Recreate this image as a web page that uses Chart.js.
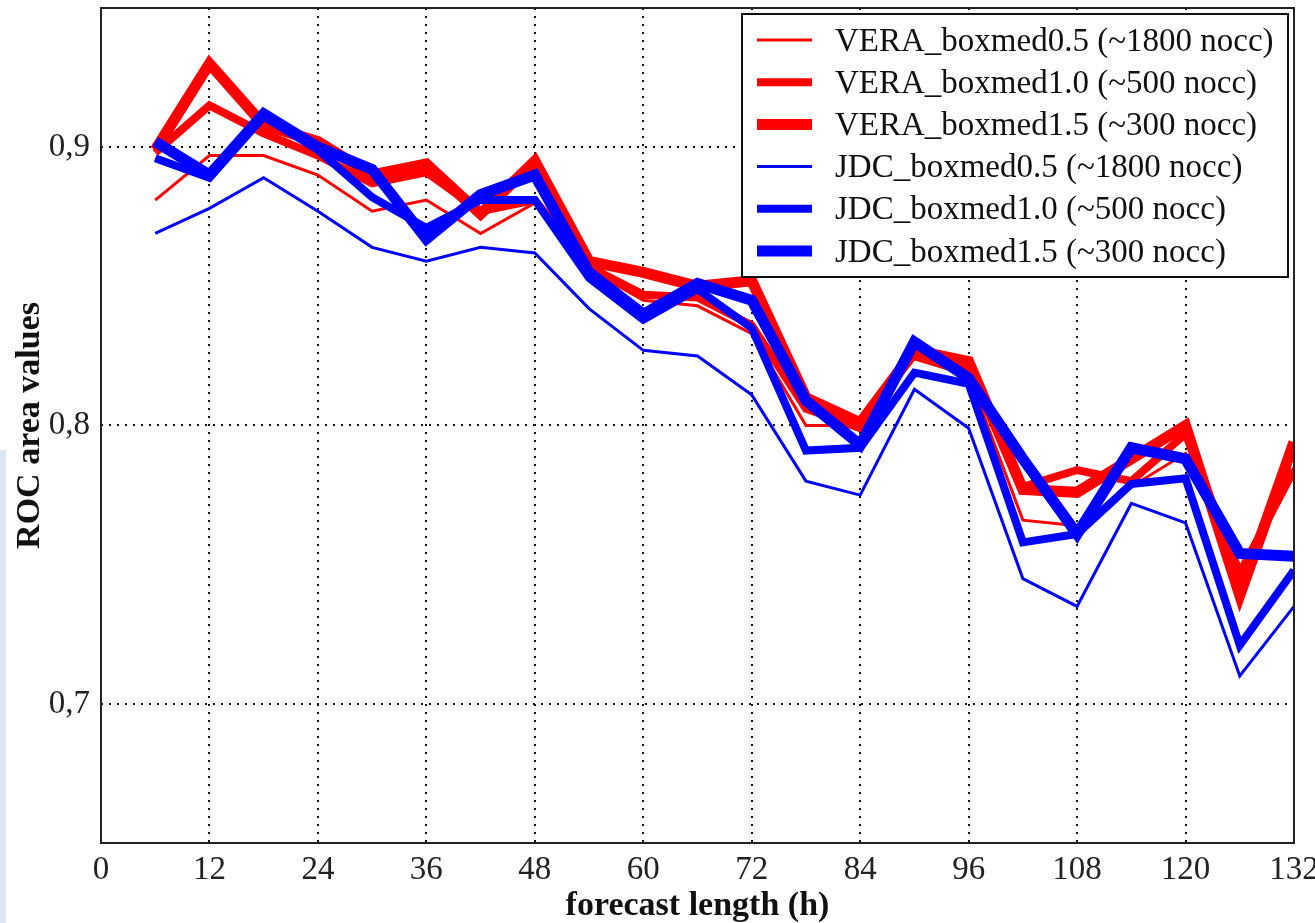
<!DOCTYPE html>
<html>
<head>
<meta charset="utf-8">
<script src="https://cdn.jsdelivr.net/npm/chart.js@4.4.1/dist/chart.umd.min.js"></script>
<style>
  html, body { margin: 0; padding: 0; background: #fff; overflow: hidden; }
  #wrap { position: relative; width: 1315px; height: 923px; }
</style>
</head>
<body>
<div id="wrap"><canvas id="rocChart"></canvas></div>
<script>
// Forecast lengths (h) and axis ticks
var forecastHours = [6, 12, 18, 24, 30, 36, 42, 48, 54, 60, 66, 72, 78, 84, 90, 96, 102, 108, 114, 120, 126, 132]
var xTicks = [0, 12, 24, 36, 48, 60, 72, 84, 96, 108, 120, 132]
var yTicks = [0.7, 0.8, 0.9]

// ROC area values
var vera05 = [0.881, 0.897, 0.897, 0.890, 0.877, 0.881, 0.869, 0.880, 0.856, 0.845, 0.843, 0.833, 0.800, 0.800, 0.824, 0.818, 0.766, 0.764, 0.778, 0.790, 0.745, 0.785]
var vera10 = [0.898, 0.915, 0.905, 0.897, 0.887, 0.891, 0.877, 0.881, 0.857, 0.847, 0.846, 0.836, 0.806, 0.799, 0.826, 0.820, 0.778, 0.784, 0.780, 0.797, 0.747, 0.784]
var vera15 = [0.899, 0.930, 0.908, 0.902, 0.890, 0.894, 0.876, 0.895, 0.859, 0.855, 0.850, 0.852, 0.810, 0.801, 0.827, 0.823, 0.777, 0.776, 0.788, 0.800, 0.739, 0.794]
var jdc05 = [0.869, 0.878, 0.889, 0.877, 0.864, 0.859, 0.864, 0.862, 0.842, 0.827, 0.825, 0.811, 0.780, 0.775, 0.813, 0.799, 0.745, 0.735, 0.772, 0.765, 0.710, 0.735]
var jdc10 = [0.896, 0.889, 0.911, 0.899, 0.882, 0.871, 0.881, 0.881, 0.853, 0.838, 0.849, 0.835, 0.791, 0.792, 0.819, 0.815, 0.758, 0.761, 0.779, 0.781, 0.721, 0.748]
var jdc15 = [0.902, 0.890, 0.912, 0.900, 0.892, 0.867, 0.883, 0.890, 0.855, 0.840, 0.851, 0.845, 0.809, 0.793, 0.830, 0.817, 0.788, 0.761, 0.792, 0.788, 0.754, 0.753]

var seriesLabels = [
    'VERA_boxmed0.5 (~1800 nocc)',
    'VERA_boxmed1.0 (~500 nocc)',
    'VERA_boxmed1.5 (~300 nocc)',
    'JDC_boxmed0.5 (~1800 nocc)',
    'JDC_boxmed1.0 (~500 nocc)',
    'JDC_boxmed1.5 (~300 nocc)'
]

var serif = '"Liberation Serif", "Times New Roman", serif'

function points(values) {
    return values.map(function (v, i) { return { x: forecastHours[i], y: v } })
}

function makeSet(label, values, color, width, order) {
    return {
        label: label,
        data: points(values),
        borderColor: color,
        backgroundColor: color,
        borderWidth: width,
        pointRadius: 0,
        tension: 0,
        fill: false,
        borderJoinStyle: 'miter',
        order: order
    }
}

// Frame round the plot area
var framePlugin = {
    id: 'frame',
    beforeDraw: function (chart) {
        var c = chart.ctx
        c.save()
        c.fillStyle = '#dde7f4'
        c.fillRect(0, 450, 6, chart.height - 450)
        c.restore()
    },
    afterDraw: function (chart) {
        var a = chart.chartArea
        var c = chart.ctx
        c.save()
        c.strokeStyle = '#222'
        c.lineWidth = 2
        c.strokeRect(a.left, a.top, a.right - a.left, a.bottom - a.top)
        c.restore()
    }
}

// Legend box in the top right corner
var legendPlugin = {
    id: 'boxLegend',
    afterDraw: function (chart) {
        var a = chart.chartArea
        var c = chart.ctx
        var boxRight = a.right - 6
        var boxLeft = 742
        var boxTop = a.top + 6
        var boxHeight = 263
        c.save()
        c.fillStyle = '#fff'
        c.fillRect(boxLeft, boxTop, boxRight - boxLeft, boxHeight)
        c.strokeStyle = '#111'
        c.lineWidth = 2
        c.strokeRect(boxLeft, boxTop, boxRight - boxLeft, boxHeight)
        c.font = '33px ' + serif
        c.textBaseline = 'middle'
        c.fillStyle = '#111'
        chart.data.datasets.forEach(function (ds, i) {
            var y = boxTop + 26 + i * 42.2
            c.strokeStyle = ds.borderColor
            c.lineWidth = ds.borderWidth
            c.beginPath()
            c.moveTo(boxLeft + 15, y)
            c.lineTo(boxLeft + 70, y)
            c.stroke()
            c.fillText(ds.label, boxLeft + 93, y + 2)
        })
        c.restore()
    }
}

const ctx = document.getElementById('rocChart').getContext('2d')
const config = {
    type: 'line',
    data: {
        datasets: [
            makeSet(seriesLabels[0], vera05, '#ff0000', 3, 1),
            makeSet(seriesLabels[1], vera10, '#ff0000', 8, 1),
            makeSet(seriesLabels[2], vera15, '#ff0000', 11, 1),
            makeSet(seriesLabels[3], jdc05, '#0000ff', 3, 0),
            makeSet(seriesLabels[4], jdc10, '#0000ff', 8, 0),
            makeSet(seriesLabels[5], jdc15, '#0000ff', 11, 0)
        ]
    },
    options: {
        responsive: true,
        maintainAspectRatio: false,
        animation: false,
        devicePixelRatio: 1,
        layout: { padding: { top: 8, right: 21, left: 0, bottom: 0 } },
        plugins: {
            legend: { display: false },
            tooltip: { enabled: false },
            title: { display: false }
        },
        scales: {
            x: {
                type: 'linear',
                min: 0,
                max: 132,
                afterBuildTicks: function (scale) {
                    scale.ticks = xTicks.map(function (v) { return { value: v } })
                },
                afterFit: function (scale) {
                    scale.height = 80
                    scale.paddingLeft = 0
                    scale.paddingRight = 0
                },
                ticks: {
                    autoSkip: false,
                    maxRotation: 0,
                    padding: 8,
                    color: '#222',
                    font: { family: serif, size: 33 }
                },
                grid: { color: '#111', lineWidth: 2, drawTicks: false },
                border: { display: false, dash: [2, 6] },
                title: {
                    display: true,
                    text: 'forecast length (h)',
                    color: '#111',
                    padding: { top: 0, bottom: -4 },
                    font: { family: serif, size: 34, weight: 'bold' }
                }
            },
            y: {
                min: 0.65,
                max: 0.95,
                afterBuildTicks: function (scale) {
                    scale.ticks = yTicks.map(function (v) { return { value: v } })
                },
                afterFit: function (scale) {
                    scale.width = 101
                    scale.paddingTop = 0
                    scale.paddingBottom = 0
                },
                ticks: {
                    padding: 11,
                    color: '#222',
                    font: { family: serif, size: 33 },
                    callback: function (value) {
                        return value.toFixed(1).replace('.', ',')
                    }
                },
                grid: { color: '#111', lineWidth: 2, drawTicks: false },
                border: { display: false, dash: [2, 6] },
                title: {
                    display: true,
                    text: 'ROC area values',
                    color: '#111',
                    padding: { top: 10, bottom: 0 },
                    font: { family: serif, size: 34, weight: 'bold' }
                }
            }
        }
    },
    plugins: [framePlugin, legendPlugin]
}

const rocChart = new Chart(ctx, config)
</script>
</body>
</html>
